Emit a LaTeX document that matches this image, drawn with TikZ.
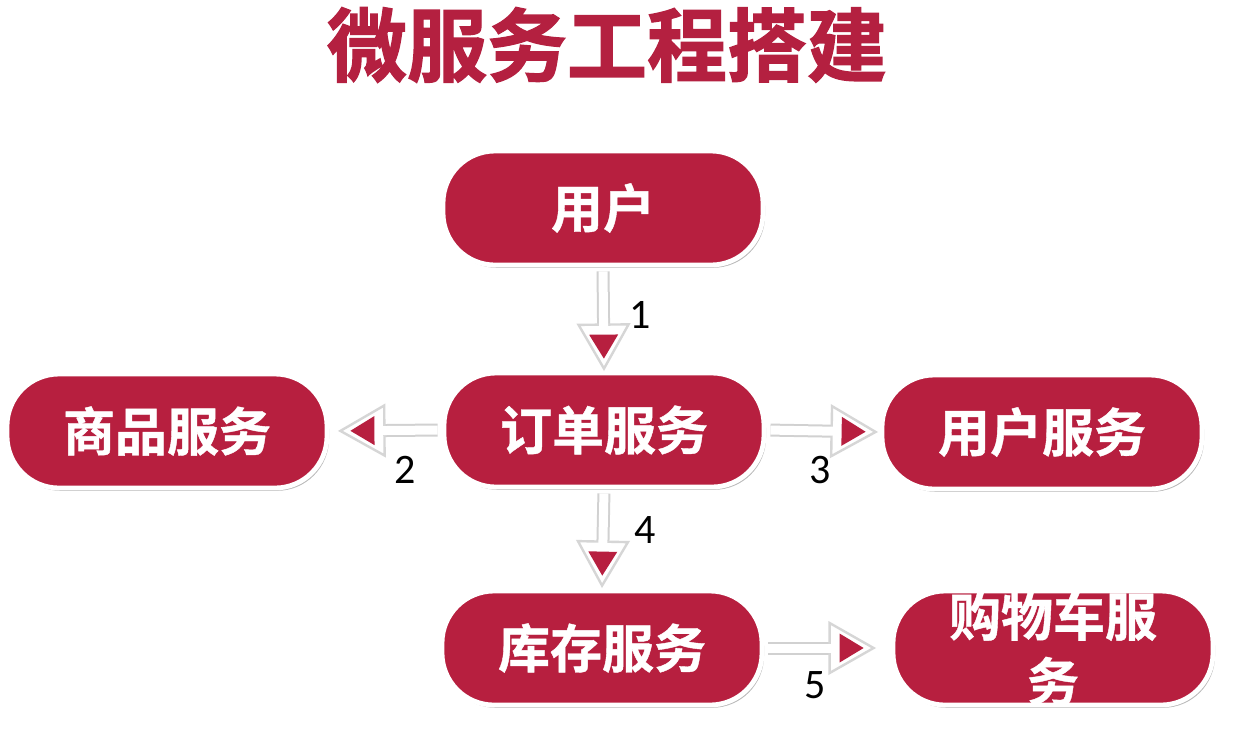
\documentclass[tikz,border=0pt]{standalone}
\usepackage{fontspec}
\setmainfont{Carlito}
\newfontfamily\cjkb[FakeBold=0.8]{Noto Sans CJK SC Bold}
\newfontfamily\cjkt[FakeBold=1.6]{Noto Sans CJK SC Bold}
\usetikzlibrary{calc,shadows}
\definecolor{boxred}{RGB}{183,31,63}
\definecolor{titlered}{RGB}{180,32,64}
\newcommand\myconn[3]{%
  \coordinate (T) at (#2);
  \coordinate (S) at (#1);
  \coordinate (S0) at ($(S)!2pt!(T)$);
  \coordinate (tip) at ($(T)!#3!(S)$);
  \coordinate (base) at ($(tip)!22pt!(S)$);
  \coordinate (itip) at ($(tip)!5pt!(S)$);
  \coordinate (ibase) at ($(itip)!12pt!(S)$);
  \draw[shaftbg] (S0) -- (base);
  \draw[headout] (tip) -- ($(base)!12.5pt!90:(S)$) -- ($(base)!12.5pt!-90:(S)$) -- cycle;
  \draw[shaftfg] (S0) -- ($(base)!1pt!(tip)$);
  \fill[headin] (itip) -- ($(ibase)!7.25pt!90:(S)$) -- ($(ibase)!7.25pt!-90:(S)$) -- cycle;
}
\begin{document}
\begin{tikzpicture}[x=0.5pt,y=-0.5pt,
  box/.style={draw=white, line width=2.4pt, fill=boxred, rounded corners=26pt,
    minimum width=160pt, minimum height=57pt, inner sep=0pt, text=white,
    font=\cjkb\fontsize{26}{32.5}\selectfont,
    drop shadow={shadow xshift=1pt, shadow yshift=-1.4pt, fill=black, opacity=0.28}},
  shaftbg/.style={draw=black!18, line width=6.5pt},
  shaftfg/.style={draw=white, line width=4.5pt},
  headout/.style={draw=black!16, line width=1.2pt, fill=white, line join=miter},
  headin/.style={fill=boxred},
  num/.style={font=\fontsize{21}{24}\selectfont, text=black, inner sep=0pt},
  ttl/.style={font=\cjkt\fontsize{40}{44}\selectfont, text=titlered, inner sep=0pt}
]
\useasboundingbox[fill=white] (0,0) rectangle (1256,735);

\node[ttl] (title) at (607,45) {微服务工程搭建};

\node[box] (user)  at (603,208) {用户};
\node[box] (order) at (604,430) {订单服务};
\node[box] (goods) at (167,431) {商品服务};
\node[box] (usvc)  at (1042,432) {用户服务};
\node[box] (stock) at (602,648) {库存服务};
\node[box] (cart)  at (1053,648) {\raisebox{-10pt}[0pt][0pt]{\begin{tabular}{@{}c@{}}购物车服\\务\end{tabular}}};

% connectors
\myconn{user.south}{order.north}{1pt}
\myconn{order.west}{goods.east}{5.5pt}
\myconn{order.east}{usvc.west}{2pt}
\myconn{order.south}{stock.north}{1.5pt}
\myconn{stock.east}{cart.west}{8.5pt}

\node[num] (n1) at (640,315) {1};
\node[num] (n2) at (405,470) {2};
\node[num] (n3) at (820,470) {3};
\node[num] (n4) at (645,530) {4};
\node[num] (n5) at (815,685) {5};
\end{tikzpicture}
\end{document}
